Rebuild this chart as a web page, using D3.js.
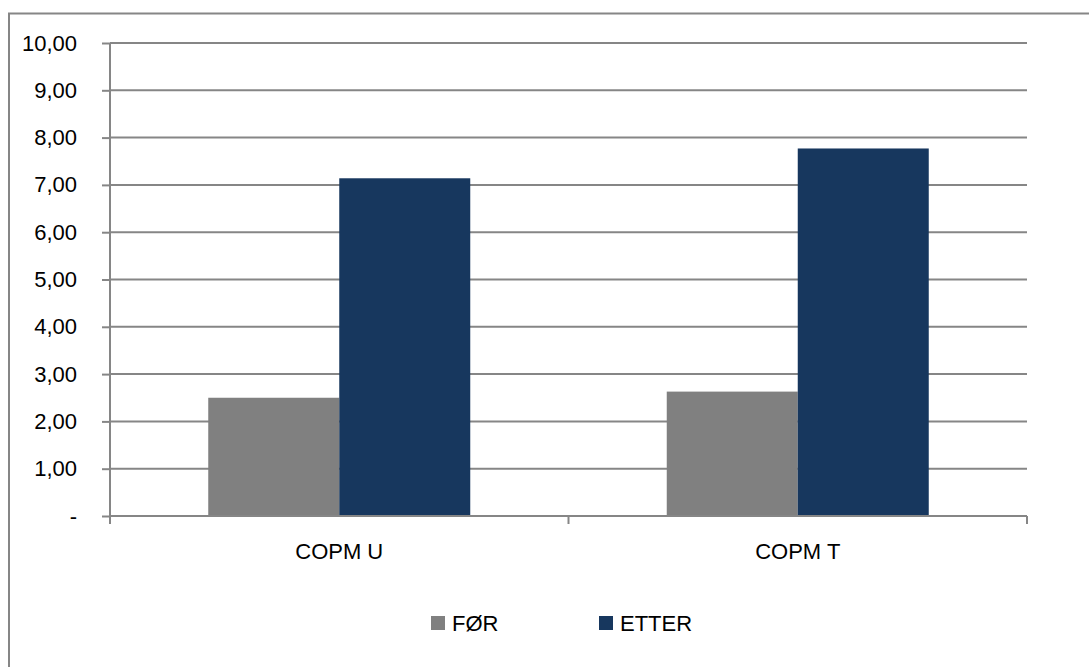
<!DOCTYPE html>
<html>
<head>
<meta charset="utf-8">
<script src="https://cdn.jsdelivr.net/npm/d3@7"></script>
<style>
  body { margin: 0; background: #fff; }
  text { font-family: "Liberation Sans", Arial, sans-serif; fill: #000; }
</style>
</head>
<body>
<script>
var categories = ["COPM U", "COPM T"];
var seriesNames = ["FØR", "ETTER"];
var forValues = [2.50, 2.63];
var etterValues = [7.14, 7.77];
var yTicks = [0, 1, 2, 3, 4, 5, 6, 7, 8, 9, 10];
var colors = ["#808080", "#17375E"];

var svgWidth = 1089;
var svgHeight = 667;
var plotLeft = 110, plotRight = 1027, plotTop = 43, plotBottom = 516;
var gridColor = "#868686";

var svg = d3.select("body")
  .append("svg")
  .attr("width", svgWidth)
  .attr("height", svgHeight);

// outer border (cropped at right and bottom)
svg.append("path")
  .attr("d", "M9," + svgHeight + " L9,13.5 L" + svgWidth + ",13.5")
  .style("fill", "none")
  .style("stroke", gridColor)
  .style("stroke-width", 2);

var yScale = d3.scaleLinear()
  .domain([0, 10])
  .range([plotBottom, plotTop]);

var xScale = d3.scaleBand()
  .domain(categories)
  .range([plotLeft, plotRight])
  .padding(0);

var xInner = d3.scaleBand()
  .domain(seriesNames)
  .range([0, xScale.bandwidth()])
  .paddingInner(0)
  .paddingOuter(0.75);

// gridlines
svg.selectAll(".grid")
  .data(yTicks.filter(function(d) { return d > 0; }))
  .enter()
  .append("line")
  .attr("class", "grid")
  .attr("x1", plotLeft)
  .attr("x2", plotRight)
  .attr("y1", function(d) { return yScale(d); })
  .attr("y2", function(d) { return yScale(d); })
  .style("stroke", gridColor)
  .style("stroke-width", 2);

// bars
var table = categories.map(function(c, i) {
  return [{cat: c, s: seriesNames[0], v: forValues[i], col: colors[0]},
          {cat: c, s: seriesNames[1], v: etterValues[i], col: colors[1]}];
});

svg.selectAll(".group")
  .data(table)
  .enter()
  .append("g")
  .attr("transform", function(d) { return "translate(" + xScale(d[0].cat) + ",0)"; })
  .selectAll("rect")
  .data(function(d) { return d; })
  .enter()
  .append("rect")
  .attr("x", function(d) { return xInner(d.s); })
  .attr("y", function(d) { return yScale(d.v); })
  .attr("width", xInner.bandwidth())
  .attr("height", function(d) { return yScale(0) - yScale(d.v); })
  .style("fill", function(d) { return d.col; });

// y axis
var yAxis = svg.append("g")
  .attr("transform", "translate(" + plotLeft + ",0)")
  .call(d3.axisLeft(yScale)
    .tickValues(yTicks)
    .tickSize(8)
    .tickPadding(25)
    .tickFormat(function(d) { return d === 0 ? "-" : d3.format(".2f")(d).replace(".", ","); }));

// x axis
var xAxis = svg.append("g")
  .attr("transform", "translate(0," + plotBottom + ")")
  .call(d3.axisBottom(xScale).tickSize(0).tickPadding(27));

// x axis ticks at band boundaries
svg.selectAll(".xtick")
  .data(categories.concat(["end"]))
  .enter()
  .append("line")
  .attr("x1", function(d, i) { return i < categories.length ? xScale(d) : plotRight; })
  .attr("x2", function(d, i) { return i < categories.length ? xScale(d) : plotRight; })
  .attr("y1", plotBottom)
  .attr("y2", plotBottom + 8)
  .style("stroke", gridColor)
  .style("stroke-width", 2);

[yAxis, xAxis].forEach(function(ax) {
  ax.selectAll("path, line").style("stroke", gridColor).style("stroke-width", 2);
  ax.selectAll("text")
    .style("font-family", "'Liberation Sans', Arial, sans-serif")
    .style("font-size", "22px")
    .attr("fill", "#000");
});
xAxis.select(".domain").attr("d", "M" + plotLeft + ",0H" + plotRight);
yAxis.select(".domain").attr("d", "M0," + plotTop + "V" + (plotBottom + 8));

// legend
var legendX = [431, 599];
var legend = svg.selectAll(".legend")
  .data(seriesNames)
  .enter()
  .append("g")
  .attr("transform", function(d, i) { return "translate(" + legendX[i] + ",616)"; });

legend.append("rect")
  .attr("width", 14)
  .attr("height", 14)
  .style("fill", function(d, i) { return colors[i]; });

legend.append("text")
  .attr("x", 21)
  .attr("y", 15)
  .style("font-size", "22px")
  .text(function(d) { return d; });
</script>
</body>
</html>
